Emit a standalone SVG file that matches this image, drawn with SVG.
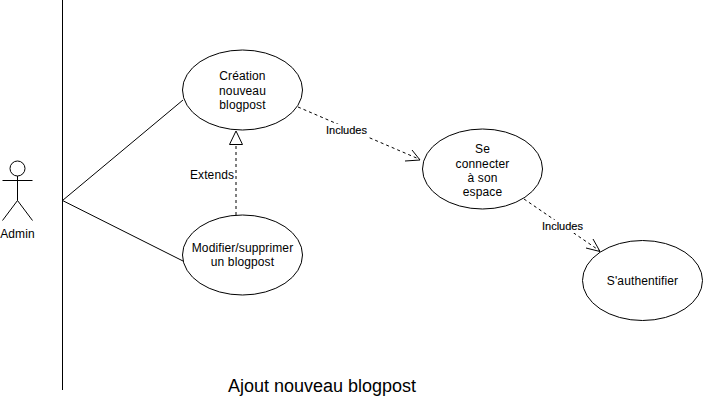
<svg xmlns="http://www.w3.org/2000/svg" width="703" height="401" viewBox="0 0 703 401">
<style>
text{font-family:"Liberation Sans",Arial,sans-serif;font-size:12px;fill:#000;text-anchor:middle;letter-spacing:.12px}
.s{fill:none;stroke:#000;stroke-width:1}
.e{fill:#fff;stroke:#000;stroke-width:1}
.d{stroke-dasharray:3 3}
.l{font-size:11px;stroke:#000;stroke-width:.15;letter-spacing:0}
</style>
<rect width="703" height="401" fill="#fff"/>
<g id="connectors">
<path class="s" d="M62.5 0V390"/>
<path class="s" d="M62.5 200.500L183 100"/>
<path class="s" d="M62.500 200.500L183 261"/>
<path class="s d" d="M236 215V144"/>
<path class="e" d="M236 131L242.500 144.500H229.500Z"/>
<path class="s d" d="M298 107L420 159.500"/>
<path class="s" d="M412 150L420 160L405 161"/>
<path class="s d" d="M524 199L600 251"/>
<path class="s" d="M593 239L600 251.500L586 248"/>
<rect x="326" y="124" width="42" height="13" fill="#fff"/>
<text class="l" x="346.500" y="134">Includes</text>
<rect x="542" y="220" width="42" height="13" fill="#fff"/>
<text class="l" x="562.500" y="230">Includes</text>
<text x="212" y="179">Extends</text>
</g>
<g id="admin">
<circle class="s" cx="17.500" cy="168.500" r="7.500"/>
<path class="s" d="M17.500 176V200.500M2.500 180.500H32.500M17.500 200.500L2.500 220.500M17.500 200.500L32.500 220.500"/>
<text x="17.500" y="238">Admin</text>
</g>
<g id="creation">
<ellipse class="e" cx="242.500" cy="90" rx="60" ry="40"/>
<text x="242.500" y="80">Création</text><text x="242.500" y="95">nouveau</text><text x="242.500" y="109">blogpost</text>
</g>
<g id="modifier">
<ellipse class="e" cx="242.500" cy="255" rx="60" ry="40"/>
<text x="242.500" y="252">Modifier/supprimer</text><text x="242.500" y="266">un blogpost</text>
</g>
<g id="connecter">
<ellipse class="e" cx="482.500" cy="169" rx="60" ry="40"/>
<text x="482.500" y="153">Se</text><text x="482.500" y="168">connecter</text><text x="482.500" y="182">à son</text><text x="482.500" y="196">espace</text>
</g>
<g id="authentifier">
<ellipse class="e" cx="642.500" cy="280.500" rx="60" ry="40"/>
<text x="642.500" y="285">S'authentifier</text>
</g>
<text id="title" x="322" y="392" style="font-size:18px;letter-spacing:0">Ajout nouveau blogpost</text>
</svg>
